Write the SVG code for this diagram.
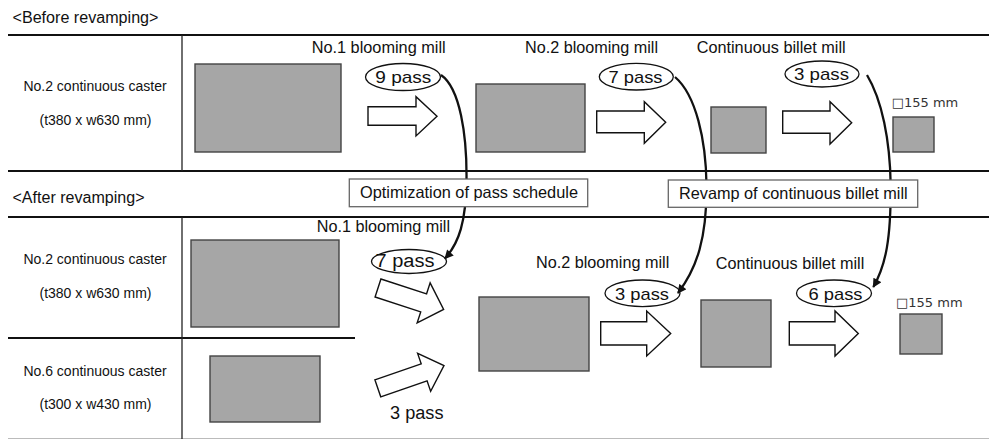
<svg xmlns="http://www.w3.org/2000/svg" width="989" height="439" viewBox="0 0 989 439">
  <style>
    .t { font-family: "Liberation Sans", Arial, sans-serif; fill: #111; }
    .hd { font-size: 16px; }
    .src { font-size: 14px; text-anchor: middle; }
    .mill { font-size: 16px; }
    .pass { font-size: 17px; text-anchor: middle; }
    .note { font-size: 16.5px; }
    .size { font-family: "DejaVu Sans", Verdana, sans-serif; font-size: 13px; fill: #333; }
    .rule { stroke: #111; stroke-width: 2.2; fill: none; }
    .col { stroke: #222; stroke-width: 1.3; fill: none; }
    .bar { fill: #a6a6a6; stroke: #444; stroke-width: 1.4; }
    .blk { fill: #fff; stroke: #111; stroke-width: 1.4; stroke-linejoin: miter; }
    .ring { fill: #fff; stroke: #111; stroke-width: 1.3; }
    .flow { fill: none; stroke: #111; stroke-width: 2.3; }
    .box { fill: #fff; stroke: #666; stroke-width: 1.3; }
  </style>
  <defs>
    <marker id="tip" viewBox="0 0 10 10" refX="9" refY="5" markerWidth="10" markerHeight="9" markerUnits="userSpaceOnUse" orient="auto">
      <path d="M0,0 L10,5 L0,10 z" fill="#111"/>
    </marker>
  </defs>

  <!-- table rules -->
  <g id="rules">
    <line class="rule" x1="8" y1="35" x2="989" y2="35"/>
    <line class="rule" x1="8" y1="171" x2="989" y2="171"/>
    <line class="rule" x1="8" y1="217" x2="989" y2="217"/>
    <line class="rule" x1="8" y1="338" x2="355" y2="338"/>
    <line x1="8" y1="438.5" x2="989" y2="438.5" stroke="#bbb" stroke-width="1.2"/>
    <line class="col" x1="182" y1="35" x2="182" y2="171"/>
    <line class="col" x1="182" y1="217" x2="182" y2="439"/>
  </g>

  <text class="t hd" x="12.5" y="22.5" textLength="146" lengthAdjust="spacingAndGlyphs">&lt;Before revamping&gt;</text>
  <text class="t hd" x="12.5" y="203" textLength="132" lengthAdjust="spacingAndGlyphs">&lt;After revamping&gt;</text>

  <!-- casters -->
  <g id="caster-before">
    <text class="t src" x="95" y="90.7">No.2 continuous caster</text>
    <text class="t src" x="95.5" y="125">(t380 x w630 mm)</text>
    <rect class="bar" x="195" y="64" width="146" height="88"/>
  </g>
  <g id="caster2-after">
    <text class="t src" x="95" y="264">No.2 continuous caster</text>
    <text class="t src" x="95.5" y="298.3">(t380 x w630 mm)</text>
    <rect class="bar" x="191" y="240" width="148" height="87"/>
  </g>
  <g id="caster6-after">
    <text class="t src" x="95" y="375.7">No.6 continuous caster</text>
    <text class="t src" x="95.5" y="409.3">(t300 x w430 mm)</text>
    <rect class="bar" x="210" y="356" width="110" height="66"/>
  </g>

  <!-- before: mills -->
  <g id="bm1-before">
    <text class="t mill" x="311.7" y="53" textLength="134" lengthAdjust="spacingAndGlyphs">No.1 blooming mill</text>
    <ellipse class="ring" cx="403" cy="77" rx="37.5" ry="13.5"/>
    <text class="t pass" x="403.3" y="82.5" textLength="56" lengthAdjust="spacingAndGlyphs">9 pass</text>
    <path class="blk" d="M368,106.7 H416 V96.7 L437,116.3 L416,136 V125.3 H368 Z"/>
  </g>
  <g id="bm2-before">
    <rect class="bar" x="476" y="84" width="109" height="68"/>
    <text class="t mill" x="525" y="53" textLength="133" lengthAdjust="spacingAndGlyphs">No.2 blooming mill</text>
    <ellipse class="ring" cx="636.3" cy="76.7" rx="37" ry="13.3"/>
    <text class="t pass" x="635.5" y="82.5" textLength="54" lengthAdjust="spacingAndGlyphs">7 pass</text>
    <path class="blk" d="M596.7,111 H644.3 V101.7 L665.7,122.3 L644.3,143.3 V132.7 H596.7 Z"/>
  </g>
  <g id="cbm-before">
    <rect class="bar" x="711" y="107" width="55" height="46"/>
    <text class="t mill" x="696.7" y="53" textLength="149" lengthAdjust="spacingAndGlyphs">Continuous billet mill</text>
    <ellipse class="ring" cx="822" cy="74" rx="37" ry="13"/>
    <text class="t pass" x="821.5" y="80" textLength="55" lengthAdjust="spacingAndGlyphs">3 pass</text>
    <path class="blk" d="M782.7,111 H830 V101.7 L851.7,122.7 L830,144 V133.3 H782.7 Z"/>
  </g>
  <g id="billet-before">
    <text class="size" x="891.7" y="106.7">□155 mm</text>
    <rect class="bar" x="893" y="117" width="41" height="35"/>
  </g>

  <!-- after: mills -->
  <g id="bm1-after">
    <text class="t mill" x="316.7" y="231.7" textLength="133.3" lengthAdjust="spacingAndGlyphs">No.1 blooming mill</text>
    <ellipse class="ring" cx="409" cy="261.5" rx="37.5" ry="12"/>
    <text class="t" x="405" y="267" font-size="18" text-anchor="middle" textLength="59" lengthAdjust="spacingAndGlyphs">7 pass</text>
    <path class="blk" transform="translate(378,288) rotate(18)" d="M0,-9.5 H48 V-21 L69,0 L48,21 V9.5 H0 Z"/>
    <path class="blk" transform="translate(377.8,388.3) rotate(-19)" d="M0,-9 H49 V-20 L70,0 L49,20 V9 H0 Z"/>
    <text class="t" x="390" y="419.3" font-size="18" textLength="53.5" lengthAdjust="spacingAndGlyphs">3 pass</text>
  </g>
  <g id="bm2-after">
    <rect class="bar" x="479" y="297" width="110" height="74"/>
    <text class="t mill" x="536" y="268.3" textLength="133.3" lengthAdjust="spacingAndGlyphs">No.2 blooming mill</text>
    <ellipse class="ring" cx="642.5" cy="293.3" rx="37.5" ry="13.3"/>
    <text class="t pass" x="642" y="299.5" textLength="54" lengthAdjust="spacingAndGlyphs">3 pass</text>
    <path class="blk" d="M600.7,321.7 H646.7 V311 L670.7,333.5 L646.7,356 V345 H600.7 Z"/>
  </g>
  <g id="cbm-after">
    <rect class="bar" x="701" y="300" width="70" height="67"/>
    <text class="t mill" x="715.7" y="269.3" textLength="148.6" lengthAdjust="spacingAndGlyphs">Continuous billet mill</text>
    <ellipse class="ring" cx="834" cy="293.3" rx="37.5" ry="13.3"/>
    <text class="t pass" x="835.5" y="299.5" textLength="54" lengthAdjust="spacingAndGlyphs">6 pass</text>
    <path class="blk" d="M789.3,321.7 H835 V311 L858.3,333.5 L835,356 V345 H789.3 Z"/>
  </g>
  <g id="billet-after">
    <text class="size" x="896" y="307.3">□155 mm</text>
    <rect class="bar" x="900" y="314" width="42" height="40"/>
  </g>

  <!-- pass-schedule change connectors -->
  <g id="connectors">
    <path class="flow" marker-end="url(#tip)" d="M441,75 C460,88 467,135 466.5,180 C466,222 459,243 445,258.5"/>
    <path class="flow" marker-end="url(#tip)" d="M675,77 C696,95 706,140 706.5,185 C707,238 697,268 678,293"/>
    <path class="flow" marker-end="url(#tip)" d="M867,75 C882,100 890,140 890.7,185 C891,238 886,265 873.3,287"/>
  </g>

  <!-- measure callouts -->
  <g id="note-schedule">
    <rect class="box" x="349.3" y="179" width="238.4" height="27.7"/>
    <text class="t note" x="360" y="198.3" textLength="218" lengthAdjust="spacingAndGlyphs">Optimization of pass schedule</text>
  </g>
  <g id="note-revamp">
    <rect class="box" x="668.3" y="180" width="249.4" height="27.3"/>
    <text class="t note" x="679" y="198.5" textLength="228.7" lengthAdjust="spacingAndGlyphs">Revamp of continuous billet mill</text>
  </g>
</svg>
